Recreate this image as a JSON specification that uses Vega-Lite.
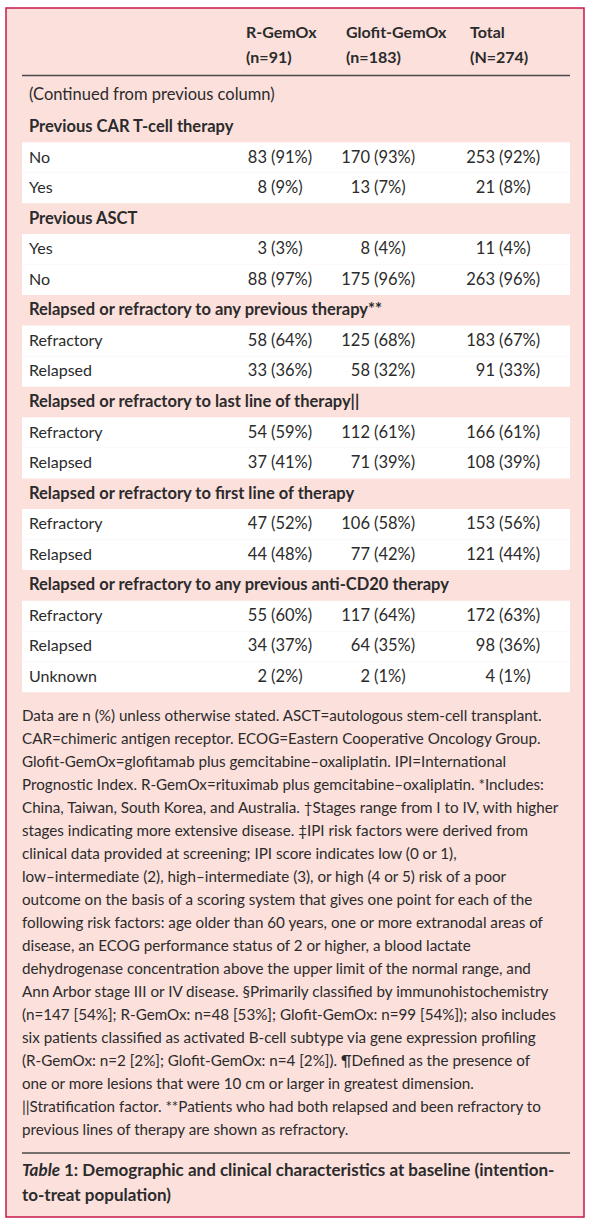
{
  "$schema": "https://vega.github.io/schema/vega-lite/v6.json",
  "width": 596,
  "height": 1226,
  "autosize": {"type": "fit", "contains": "padding"},
  "padding": {"left": 6, "top": 8, "right": 12, "bottom": 9},
  "background": "#ffffff",
  "config": {
    "view": {"fill": "#fbe0dc", "stroke": "#c8184a", "strokeWidth": 1.5},
    "text": {"font": "Lato", "fontSize": 16, "color": "#2b2b2b", "baseline": "middle"},
    "axis": {"disable": true}
  },
  "datasets": {
    "rows": [
      {"row": "r00", "kind": "group", "label": "Previous CAR T-cell therapy"},
      {"row": "r01", "kind": "data", "label": "No", "rn": "83", "rp": "(91%)", "gn": "170", "gp": "(93%)", "tn": "253", "tp": "(92%)"},
      {"row": "r02", "kind": "data", "label": "Yes", "rn": "8", "rp": "(9%)", "gn": "13", "gp": "(7%)", "tn": "21", "tp": "(8%)"},
      {"row": "r03", "kind": "group", "label": "Previous ASCT"},
      {"row": "r04", "kind": "data", "label": "Yes", "rn": "3", "rp": "(3%)", "gn": "8", "gp": "(4%)", "tn": "11", "tp": "(4%)"},
      {"row": "r05", "kind": "data", "label": "No", "rn": "88", "rp": "(97%)", "gn": "175", "gp": "(96%)", "tn": "263", "tp": "(96%)"},
      {"row": "r06", "kind": "group", "label": "Relapsed or refractory to any previous therapy**"},
      {"row": "r07", "kind": "data", "label": "Refractory", "rn": "58", "rp": "(64%)", "gn": "125", "gp": "(68%)", "tn": "183", "tp": "(67%)"},
      {"row": "r08", "kind": "data", "label": "Relapsed", "rn": "33", "rp": "(36%)", "gn": "58", "gp": "(32%)", "tn": "91", "tp": "(33%)"},
      {"row": "r09", "kind": "group", "label": "Relapsed or refractory to last line of therapy||"},
      {"row": "r10", "kind": "data", "label": "Refractory", "rn": "54", "rp": "(59%)", "gn": "112", "gp": "(61%)", "tn": "166", "tp": "(61%)"},
      {"row": "r11", "kind": "data", "label": "Relapsed", "rn": "37", "rp": "(41%)", "gn": "71", "gp": "(39%)", "tn": "108", "tp": "(39%)"},
      {"row": "r12", "kind": "group", "label": "Relapsed or refractory to first line of therapy"},
      {"row": "r13", "kind": "data", "label": "Refractory", "rn": "47", "rp": "(52%)", "gn": "106", "gp": "(58%)", "tn": "153", "tp": "(56%)"},
      {"row": "r14", "kind": "data", "label": "Relapsed", "rn": "44", "rp": "(48%)", "gn": "77", "gp": "(42%)", "tn": "121", "tp": "(44%)"},
      {"row": "r15", "kind": "group", "label": "Relapsed or refractory to any previous anti-CD20 therapy"},
      {"row": "r16", "kind": "data", "label": "Refractory", "rn": "55", "rp": "(60%)", "gn": "117", "gp": "(64%)", "tn": "172", "tp": "(63%)"},
      {"row": "r17", "kind": "data", "label": "Relapsed", "rn": "34", "rp": "(37%)", "gn": "64", "gp": "(35%)", "tn": "98", "tp": "(36%)"},
      {"row": "r18", "kind": "data", "label": "Unknown", "rn": "2", "rp": "(2%)", "gn": "2", "gp": "(1%)", "tn": "4", "tp": "(1%)"}
    ],
    "head": [
      {"ln": 0, "R": "R-GemOx", "G": "Glofit-GemOx", "T": "Total"},
      {"ln": 1, "R": "(n=91)", "G": "(n=183)", "T": "(N=274)"}
    ],
    "notes": [
      {"ln": 4, "text": "Data are n (%) unless otherwise stated. ASCT=autologous stem-cell transplant."},
      {"ln": 5, "text": "CAR=chimeric antigen receptor. ECOG=Eastern Cooperative Oncology Group."},
      {"ln": 6, "text": "Glofit-GemOx=glofitamab plus gemcitabine–oxaliplatin. IPI=International"},
      {"ln": 7, "text": "Prognostic Index. R-GemOx=rituximab plus gemcitabine–oxaliplatin. *Includes:"},
      {"ln": 8, "text": "China, Taiwan, South Korea, and Australia. †Stages range from I to IV, with higher"},
      {"ln": 9, "text": "stages indicating more extensive disease. ‡IPI risk factors were derived from"},
      {"ln": 10, "text": "clinical data provided at screening; IPI score indicates low (0 or 1),"},
      {"ln": 11, "text": "low–intermediate (2), high–intermediate (3), or high (4 or 5) risk of a poor"},
      {"ln": 12, "text": "outcome on the basis of a scoring system that gives one point for each of the"},
      {"ln": 13, "text": "following risk factors: age older than 60 years, one or more extranodal areas of"},
      {"ln": 14, "text": "disease, an ECOG performance status of 2 or higher, a blood lactate"},
      {"ln": 15, "text": "dehydrogenase concentration above the upper limit of the normal range, and"},
      {"ln": 16, "text": "Ann Arbor stage III or IV disease. §Primarily classified by immunohistochemistry"},
      {"ln": 17, "text": "(n=147 [54%]; R-GemOx: n=48 [53%]; Glofit-GemOx: n=99 [54%]); also includes"},
      {"ln": 18, "text": "six patients classified as activated B-cell subtype via gene expression profiling"},
      {"ln": 19, "text": "(R-GemOx: n=2 [2%]; Glofit-GemOx: n=4 [2%]). ¶Defined as the presence of"},
      {"ln": 20, "text": "one or more lesions that were 10 cm or larger in greatest dimension."},
      {"ln": 21, "text": "||Stratification factor. **Patients who had both relapsed and been refractory to"},
      {"ln": 22, "text": "previous lines of therapy are shown as refractory."}
    ]
  },
  "resolve": {"scale": {"y": "independent"}},
  "layer": [
    {
      "data": {"name": "rows"},
      "encoding": {
        "y": {"field": "row", "type": "ordinal",
              "scale": {"type": "band", "domain": ["r00","r01","r02","r03","r04","r05","r06","r07","r08","r09","r10","r11","r12","r13","r14","r15","r16","r17","r18"],
                        "range": [103.7, 684.3], "paddingInner": 0, "paddingOuter": 0}}
      },
      "layer": [
        {
          "transform": [{"filter": "datum.kind == 'data'"}],
          "mark": {"type": "rect", "fill": "#ffffff"},
          "encoding": {
            "x": {"datum": 0, "type": "quantitative", "scale": {"domain": [0,1,2,3,4,5,6,7,8], "range": [16,23,240,265,340,368,464,493,564], "zero": false, "nice": false}},
            "x2": {"datum": 8}
          }
        },
        {
          "transform": [{"filter": "datum.kind == 'data'"}],
          "mark": {"type": "text", "align": "left"},
          "encoding": {"x": {"datum": 1, "type": "quantitative"}, "text": {"field": "label"}}
        },
        {
          "transform": [{"filter": "datum.kind == 'group'"}],
          "mark": {"type": "text", "align": "left", "fontWeight": "bold", "fontSize": 16.5},
          "encoding": {"x": {"datum": 1, "type": "quantitative"}, "text": {"field": "label"}}
        },
        {
          "transform": [{"filter": "datum.kind == 'data'"}],
          "mark": {"type": "text", "align": "right", "dx": -4, "fontSize": 16.5},
          "encoding": {"x": {"datum": 3, "type": "quantitative"}, "text": {"field": "rn"}}
        },
        {
          "transform": [{"filter": "datum.kind == 'data'"}],
          "mark": {"type": "text", "align": "left", "fontSize": 16.5},
          "encoding": {"x": {"datum": 3, "type": "quantitative"}, "text": {"field": "rp"}}
        },
        {
          "transform": [{"filter": "datum.kind == 'data'"}],
          "mark": {"type": "text", "align": "right", "dx": -4, "fontSize": 16.5},
          "encoding": {"x": {"datum": 5, "type": "quantitative"}, "text": {"field": "gn"}}
        },
        {
          "transform": [{"filter": "datum.kind == 'data'"}],
          "mark": {"type": "text", "align": "left", "fontSize": 16.5},
          "encoding": {"x": {"datum": 5, "type": "quantitative"}, "text": {"field": "gp"}}
        },
        {
          "transform": [{"filter": "datum.kind == 'data'"}],
          "mark": {"type": "text", "align": "right", "dx": -4, "fontSize": 16.5},
          "encoding": {"x": {"datum": 7, "type": "quantitative"}, "text": {"field": "tn"}}
        },
        {
          "transform": [{"filter": "datum.kind == 'data'"}],
          "mark": {"type": "text", "align": "left", "fontSize": 16.5},
          "encoding": {"x": {"datum": 7, "type": "quantitative"}, "text": {"field": "tp"}}
        }
      ]
    },
    {
      "encoding": {
        "y": {"field": "ln", "type": "quantitative",
              "scale": {"domain": [0,1,2,3,4,22,23,24,25], "range": [25,49.5,67.5,87,708,1122,1145,1163,1188], "zero": false, "nice": false}}
      },
      "layer": [
        {
          "data": {"values": [{"ln": 2}, {"ln": 23}]},
          "mark": {"type": "rule", "color": "#4a4a4a", "strokeWidth": 1.3},
          "encoding": {"x": {"datum": 0, "type": "quantitative"}, "x2": {"datum": 8}}
        },
        {
          "data": {"name": "head"},
          "mark": {"type": "text", "align": "left", "fontWeight": "bold"},
          "encoding": {"x": {"datum": 2, "type": "quantitative"}, "text": {"field": "R"}}
        },
        {
          "data": {"name": "head"},
          "mark": {"type": "text", "align": "left", "fontWeight": "bold"},
          "encoding": {"x": {"datum": 4, "type": "quantitative"}, "text": {"field": "G"}}
        },
        {
          "data": {"name": "head"},
          "mark": {"type": "text", "align": "left", "fontWeight": "bold"},
          "encoding": {"x": {"datum": 6, "type": "quantitative"}, "text": {"field": "T"}}
        },
        {
          "data": {"values": [{"ln": 3, "text": "(Continued from previous column)"}]},
          "mark": {"type": "text", "align": "left", "fontSize": 16.5},
          "encoding": {"x": {"datum": 1, "type": "quantitative"}, "text": {"field": "text"}}
        },
        {
          "data": {"name": "notes"},
          "mark": {"type": "text", "align": "left", "fontSize": 15.2},
          "encoding": {"x": {"datum": 0, "type": "quantitative"}, "text": {"field": "text"}}
        },
        {
          "data": {"values": [{"ln": 24, "text": "Table"}]},
          "mark": {"type": "text", "align": "left", "fontWeight": "bold", "fontStyle": "italic", "fontSize": 17},
          "encoding": {"x": {"datum": 0, "type": "quantitative"}, "text": {"field": "text"}}
        },
        {
          "data": {"values": [{"ln": 24, "text": "1: Demographic and clinical characteristics at baseline (intention-"}]},
          "mark": {"type": "text", "align": "left", "fontWeight": "bold", "fontSize": 17, "dx": 42},
          "encoding": {"x": {"datum": 0, "type": "quantitative"}, "text": {"field": "text"}}
        },
        {
          "data": {"values": [{"ln": 25, "text": "to-treat population)"}]},
          "mark": {"type": "text", "align": "left", "fontWeight": "bold", "fontSize": 17},
          "encoding": {"x": {"datum": 0, "type": "quantitative"}, "text": {"field": "text"}}
        }
      ]
    }
  ]
}
